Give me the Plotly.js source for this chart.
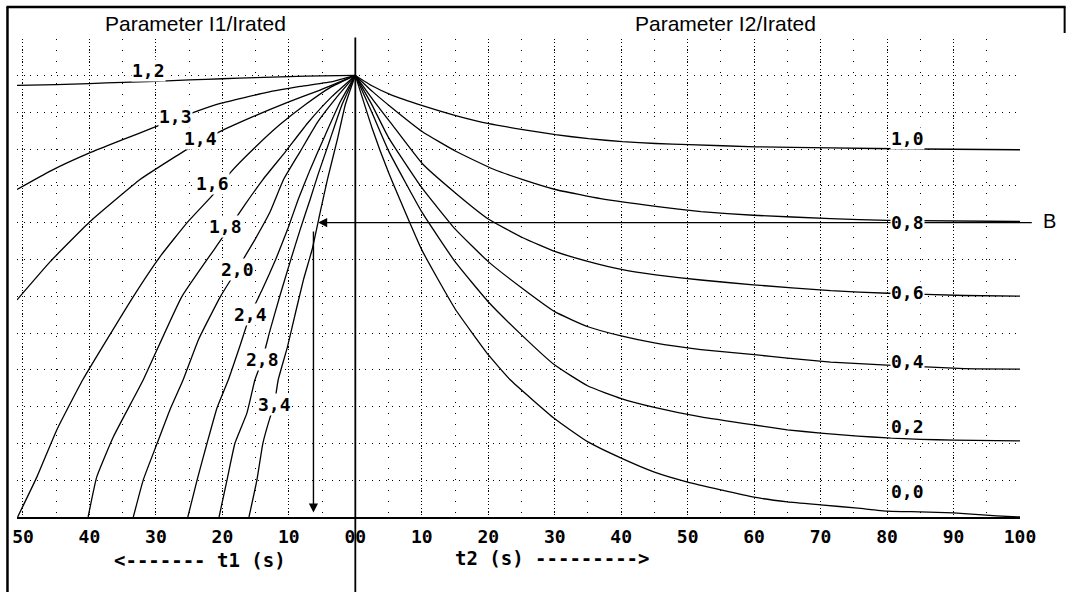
<!DOCTYPE html>
<html>
<head>
<meta charset="utf-8">
<script src="https://cdn.plot.ly/plotly-3.0.1.min.js"></script>
<style>
  html, body { margin: 0; padding: 0; background: #fff; }
  #chart { width: 1066px; height: 592px; }
</style>
</head>
<body>
<div id="chart"></div>
<script>
// ---------- DATA ----------
// Left side: heating curves, t1 = seconds before reaching the trip level, y = relative thermal level
const t1_12 = [50.9, 45, 40, 35, 30, 25, 20, 15, 10, 5, 0];
const y_12  = [1.173, 1.175, 1.178, 1.181, 1.184, 1.188, 1.191, 1.194, 1.197, 1.199, 1.2];
const t1_13 = [50.9, 45.9, 39.9, 34.9, 30.4, 23.8, 20.3, 13.3, 8.3, 3.3, 0];
const y_13  = [0.890, 0.940, 0.990, 1.026, 1.058, 1.103, 1.124, 1.154, 1.170, 1.184, 1.2];
const t1_14 = [50.9, 45.9, 39.9, 32.4, 29.8, 25.3, 20.3, 15.4, 10.2, 5.3, 0];
const y_14  = [0.590, 0.694, 0.803, 0.917, 0.948, 0.999, 1.048, 1.088, 1.127, 1.160, 1.2];
const t1_16 = [50.8, 47.9, 44.9, 41.0, 33.4, 29.4, 25.3, 21.4, 18.8, 15.1, 11.3, 7.5, 3.8, 0];
const y_16  = [0, 0.109, 0.237, 0.373, 0.599, 0.707, 0.800, 0.876, 0.936, 1.004, 1.067, 1.121, 1.167, 1.2];
const t1_18 = [40.2, 38.9, 36.4, 31.9, 26.1, 20.0, 16.6, 13.9, 10.5, 7.1, 3.5, 0];
const y_18  = [0, 0.109, 0.218, 0.373, 0.599, 0.759, 0.849, 0.917, 0.993, 1.072, 1.143, 1.2];
const t1_20 = [33.4, 31.9, 29.8, 27.9, 25.9, 23.6, 20.3, 17.8, 15.1, 12.8, 10.8, 8.3, 5.6, 2.7, 0];
const y_20  = [0, 0.101, 0.201, 0.291, 0.373, 0.482, 0.599, 0.672, 0.754, 0.830, 0.917, 0.993, 1.075, 1.143, 1.2];
const t1_24 = [25.2, 23.8, 22.3, 20.8, 19.1, 17.3, 15.8, 14.0, 12.0, 10.1, 8.6, 6.8, 4.5, 2.3, 0];
const y_24  = [0, 0.101, 0.201, 0.297, 0.373, 0.468, 0.550, 0.618, 0.699, 0.786, 0.863, 0.944, 1.039, 1.127, 1.2];
const t1_28 = [20.5, 19.3, 18.1, 16.3, 15.1, 14.0, 12.8, 11.3, 9.8, 8.3, 6.8, 5.6, 3.8, 2.0, 0];
const y_28  = [0, 0.101, 0.201, 0.283, 0.373, 0.427, 0.509, 0.604, 0.694, 0.781, 0.863, 0.931, 1.026, 1.121, 1.2];
const t1_34 = [16.0, 14.8, 13.9, 12.8, 12.2, 11.6, 10.2, 9.0, 7.8, 6.5, 5.3, 4.2, 2.7, 1.5, 0];
const y_34  = [0, 0.101, 0.201, 0.272, 0.305, 0.373, 0.463, 0.555, 0.645, 0.727, 0.827, 0.917, 1.026, 1.121, 1.2];

// Right side: cooling curves, t2 = seconds after the trip
const t2_10 = [0, 2.5, 5.3, 10.1, 15.1, 20.1, 25.2, 30.1, 35.1, 40.2, 45.2, 50.2, 60.2, 71.5, 85, 100];
const y_10  = [1.2, 1.172, 1.148, 1.118, 1.091, 1.069, 1.053, 1.039, 1.028, 1.020, 1.015, 1.012, 1.006, 1.003, 1.0, 0.998];
const t2_08 = [0, 2.6, 5.3, 10.1, 15.1, 20.8, 25.2, 30.1, 36.9, 45.2, 52.0, 59.9, 71.5, 80.1, 100];
const y_08  = [1.2, 1.156, 1.115, 1.047, 0.994, 0.945, 0.917, 0.89, 0.865, 0.844, 0.83, 0.82, 0.811, 0.806, 0.803];
const t2_06 = [0, 2.6, 5.3, 10.1, 15.1, 20.0, 25.2, 30.1, 35.1, 40.2, 45.2, 52.0, 59.9, 71.5, 80.1, 91.6, 100];
const y_06  = [1.2, 1.135, 1.072, 0.96, 0.88, 0.81, 0.759, 0.721, 0.694, 0.672, 0.658, 0.644, 0.631, 0.615, 0.608, 0.602, 0.600];
const t2_04 = [0, 2.5, 5, 10, 15, 20, 25, 30, 35, 40, 45, 52, 60, 65, 71.5, 80, 91.6, 100];
const y_04  = [1.2, 1.12, 1.031, 0.895, 0.783, 0.694, 0.623, 0.558, 0.517, 0.492, 0.473, 0.455, 0.441, 0.432, 0.421, 0.413, 0.403, 0.402];
const t2_02 = [0, 2.5, 5, 10, 15, 20, 25, 30, 35, 40, 45, 52, 60, 65, 70, 75.6, 80, 85, 90, 100];
const y_02  = [1.2, 1.099, 0.995, 0.829, 0.694, 0.585, 0.495, 0.413, 0.356, 0.322, 0.298, 0.272, 0.250, 0.237, 0.228, 0.220, 0.215, 0.211, 0.209, 0.207];
const t2_00 = [0, 2.5, 5, 10, 15, 20, 23.3, 30, 35, 40, 45, 50, 60, 65, 70, 75.6, 80, 85, 90, 96.5, 100];
const y_00  = [1.2, 1.058, 0.936, 0.726, 0.566, 0.441, 0.373, 0.267, 0.204, 0.160, 0.122, 0.095, 0.054, 0.041, 0.033, 0.024, 0.016, 0.014, 0.011, 0.003, 0.0];

const leftNames  = ['1,2', '1,3', '1,4', '1,6', '1,8', '2,0', '2,4', '2,8', '3,4'];
const rightNames = ['1,0', '0,8', '0,6', '0,4', '0,2', '0,0'];

// Tick values (signed position: left = -t1, right = +t2) and their labels
const tickVals = [-50, -40, -30, -20, -10, 0, 10, 20, 30, 40, 50, 60, 70, 80, 90, 100];
const tickText = ['50', '40', '30', '20', '10', '00', '10', '20', '30', '40', '50', '60', '70', '80', '90', '100'];

// Example "B": level 0.8, read time t1
const B_LEVEL = 0.8;
const B_T1 = 6.3;
const B_T2_END = 102;

// ---------- FIGURE ----------
const leftSets  = [[t1_12, y_12], [t1_13, y_13], [t1_14, y_14], [t1_16, y_16], [t1_18, y_18],
                   [t1_20, y_20], [t1_24, y_24], [t1_28, y_28], [t1_34, y_34]];
const rightSets = [[t2_10, y_10], [t2_08, y_08], [t2_06, y_06], [t2_04, y_04], [t2_02, y_02], [t2_00, y_00]];

const lineStyle = {color: '#000', width: 1.3, shape: 'spline', smoothing: 0.4};
const traces = [];
leftSets.forEach((s, i) => traces.push({
  type: 'scatter', mode: 'lines', name: leftNames[i],
  x: s[0].map(v => -v), y: s[1], line: lineStyle, hoverinfo: 'skip'
}));
rightSets.forEach((s, i) => traces.push({
  type: 'scatter', mode: 'lines', name: rightNames[i],
  x: s[0], y: s[1], line: lineStyle, hoverinfo: 'skip'
}));

const X_RANGE = [-50.9, 100];
const Y_RANGE = [0, 1.299];

const monoFont = {family: 'DejaVu Sans Mono', size: 18, color: '#000', weight: 'bold'};
const sansFont = {family: 'Liberation Sans, Arial, sans-serif', size: 21, color: '#000'};

// Curve label placements (data coordinates)
const leftLabelPos  = [[-31.1, 1.213], [-27.1, 1.088], [-23.3, 1.028], [-21.5, 0.906], [-19.6, 0.789],
                       [-17.8, 0.672], [-15.8, 0.549], [-14.0, 0.427], [-12.2, 0.305]];
const rightLabelPos = [[83.0, 1.028], [83.0, 0.800], [83.0, 0.609], [83.0, 0.422], [83.0, 0.247], [83.0, 0.068]];

const annotations = [];
// B example arrows
annotations.push({
  x: -B_T1 + 0.7, y: B_LEVEL, xref: 'x', yref: 'y',
  ax: B_T2_END, ay: B_LEVEL, axref: 'x', ayref: 'y',
  text: '', showarrow: true, arrowhead: 2, arrowsize: 1.3, arrowwidth: 1.4, arrowcolor: '#000'
});
annotations.push({
  x: -B_T1, y: 0.012, xref: 'x', yref: 'y',
  ax: -B_T1, ay: B_LEVEL - 0.02, axref: 'x', ayref: 'y',
  text: '', showarrow: true, arrowhead: 2, arrowsize: 1.3, arrowwidth: 1.4, arrowcolor: '#000'
});
leftNames.forEach((n, i) => annotations.push({
  x: leftLabelPos[i][0], y: leftLabelPos[i][1], xref: 'x', yref: 'y',
  xanchor: 'center', yanchor: 'middle',
  text: n, showarrow: false, font: monoFont, bgcolor: '#fff', borderpad: 0
}));
rightNames.forEach((n, i) => annotations.push({
  x: rightLabelPos[i][0], y: rightLabelPos[i][1], xref: 'x', yref: 'y',
  xanchor: 'center', yanchor: 'middle',
  text: n, showarrow: false, font: monoFont, bgcolor: '#fff', borderpad: 0
}));
// Titles
const paperText = (x, y, text, font) => ({x: x, y: y, xref: 'paper', yref: 'paper', xanchor: 'center',
  yanchor: 'middle', text: text, showarrow: false, font: font});
annotations.push(paperText(0.1775, 1.033, 'Parameter I1/Irated', sansFont));
annotations.push(paperText(0.706, 1.033, 'Parameter I2/Irated', sansFont));
annotations.push(paperText(1.029, 0.619, 'B', {family: 'Liberation Sans, Arial, sans-serif', size: 20, color: '#000'}));
// Axis titles
annotations.push(paperText(0.1825, -0.09, '&lt;------- t1 (s)', Object.assign({}, monoFont, {size: 19})));
annotations.push(paperText(0.533, -0.086, 't2 (s) ---------&gt;', Object.assign({}, monoFont, {size: 19})));

const zeroFrac = (0 - X_RANGE[0]) / (X_RANGE[1] - X_RANGE[0]);
const shapes = [
  // vertical zero axis, running below the plot
  {type: 'line', xref: 'paper', yref: 'paper', x0: zeroFrac, x1: zeroFrac, y0: -0.16, y1: 1.003,
   line: {color: '#000', width: 1.8}},
  // frame
  {type: 'line', xref: 'paper', yref: 'paper', x0: -0.0105, x1: 1.0455, y0: 1.067, y1: 1.067,
   line: {color: '#000', width: 2.5}},
  {type: 'line', xref: 'paper', yref: 'paper', x0: -0.0095, x1: -0.0095, y0: 1.067, y1: -0.16,
   line: {color: '#000', width: 2.5}},
  {type: 'line', xref: 'paper', yref: 'paper', x0: 1.0445, x1: 1.0445, y0: 1.067, y1: 1.0126,
   line: {color: '#000', width: 2}}
];

const layout = {
  width: 1066, height: 592,
  margin: {l: 17, r: 46, t: 39, b: 75, pad: 0},
  paper_bgcolor: '#fff', plot_bgcolor: '#fff',
  showlegend: false,
  xaxis: {
    range: X_RANGE, tickmode: 'array', tickvals: tickVals, ticktext: tickText,
    tickfont: monoFont, ticks: 'outside', ticklen: 2, tickcolor: 'rgba(0,0,0,0)',
    showgrid: true, gridcolor: '#000', gridwidth: 1, griddash: '1px,2.3px',
    minor: {tickmode: 'linear', tick0: 0, dtick: 5, showgrid: true, gridcolor: '#000', gridwidth: 1,
            griddash: '1px,10px', ticks: ''},
    zeroline: false, showline: true, linecolor: '#000', linewidth: 2, fixedrange: true
  },
  yaxis: {
    range: Y_RANGE, tickmode: 'linear', tick0: 0, dtick: 0.1, showticklabels: false, ticks: '',
    showgrid: true, gridcolor: '#000', gridwidth: 1, griddash: '1px,5.7px',
    zeroline: false, showline: false, fixedrange: true
  },
  annotations: annotations,
  shapes: shapes
};

Plotly.newPlot('chart', traces, layout, {staticPlot: true, displayModeBar: false});
</script>
</body>
</html>
